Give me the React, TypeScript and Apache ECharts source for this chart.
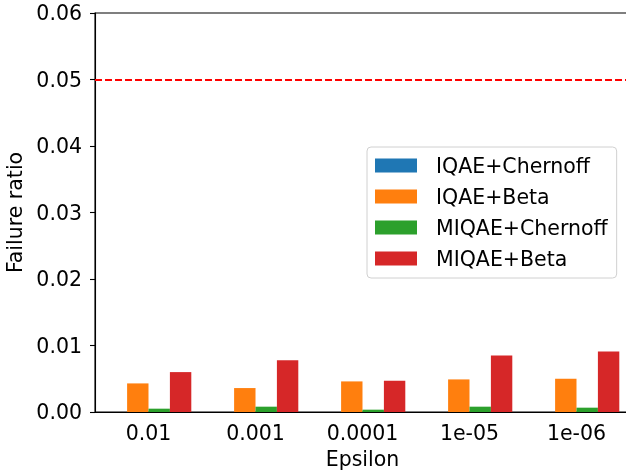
import React, { useEffect, useRef } from "react";
import * as echarts from "echarts";

const categories = ["0.01", "0.001", "0.0001", "1e-05", "1e-06"];
const seriesNames = ["IQAE+Chernoff", "IQAE+Beta", "MIQAE+Chernoff", "MIQAE+Beta"];
const iqaeChernoff = [0, 0, 0, 0, 0];
const iqaeBeta = [0.0043, 0.0036, 0.0046, 0.0049, 0.0050];
const miqaeChernoff = [0.0005, 0.0008, 0.00035, 0.0008, 0.00065];
const miqaeBeta = [0.0060, 0.0078, 0.0047, 0.0085, 0.0091];
const colors = ["#1f77b4", "#ff7f0e", "#2ca02c", "#d62728"];
const threshold = 0.05;

const FONT = "DejaVu Sans";
const FS = 20.5;

export default function App() {
  const ref = useRef<HTMLDivElement>(null);
  useEffect(() => {
    if (!ref.current) return;
    const chart = echarts.init(ref.current, null, { renderer: "svg" });
    const data = [iqaeChernoff, iqaeBeta, miqaeChernoff, miqaeBeta];
    const series: any[] = data.map((d, i) => ({
      name: seriesNames[i],
      type: "bar",
      data: d,
      barWidth: 21.4,
      barGap: "0%",
      itemStyle: { color: colors[i] },
      ...(i === 0
        ? {
            markLine: {
              symbol: "none",
              silent: true,
              label: { show: false },
              lineStyle: { color: "#ff0000", type: [7, 3], width: 2 },
              data: [{ yAxis: threshold }],
            },
          }
        : {}),
    }));
    chart.setOption({
      animation: false,
      textStyle: { fontFamily: FONT },
      grid: {
        left: 95,
        top: 13,
        width: 535,
        height: 399,
        outerBoundsMode: "none",
        containLabel: false,
        show: true,
        borderColor: "#000",
        borderWidth: 1.1,
        backgroundColor: "transparent",
      },
      legend: {
        left: 367,
        top: 147,
        orient: "vertical",
        itemWidth: 42,
        itemHeight: 14,
        itemGap: 10,
        icon: "rect",
        padding: [8, 9, 9, 8],
        borderColor: "#d0d0d0",
        borderWidth: 1,
        borderRadius: 4,
        backgroundColor: "rgba(255,255,255,0.8)",
        textStyle: { fontFamily: FONT, fontSize: FS, color: "#000", lineHeight: 21, padding: [0, 0, 0, 14] },
        data: seriesNames,
      },
      xAxis: {
        type: "category",
        data: categories,
        name: "Epsilon",
        nameLocation: "middle",
        nameGap: 36,
        nameTextStyle: { fontFamily: FONT, fontSize: FS, color: "#000", verticalAlign: "top" },
        axisLine: { lineStyle: { color: "#000", width: 1.1 } },
        axisTick: { alignWithLabel: true, length: 5, lineStyle: { color: "#000", width: 1.1 } },
        axisLabel: { fontFamily: FONT, fontSize: FS, color: "#000", margin: 10 },
      },
      yAxis: {
        type: "value",
        min: 0,
        max: 0.06,
        interval: 0.01,
        name: "Failure ratio",
        nameLocation: "middle",
        nameGap: 64,
        nameRotate: 90,
        nameTextStyle: { fontFamily: FONT, fontSize: FS, color: "#000" },
        axisLine: { show: true, lineStyle: { color: "#000", width: 1.1 } },
        axisTick: { show: true, length: 5, lineStyle: { color: "#000", width: 1.1 } },
        splitLine: { show: false },
        axisLabel: { fontFamily: FONT, fontSize: FS, color: "#000", margin: 13, formatter: (v: number) => v.toFixed(2) },
      },
      series,
    });
    return () => chart.dispose();
  }, []);
  return <div ref={ref} style={{ position: "fixed", left: 0, top: 0, width: 626, height: 472 }} />;
}
